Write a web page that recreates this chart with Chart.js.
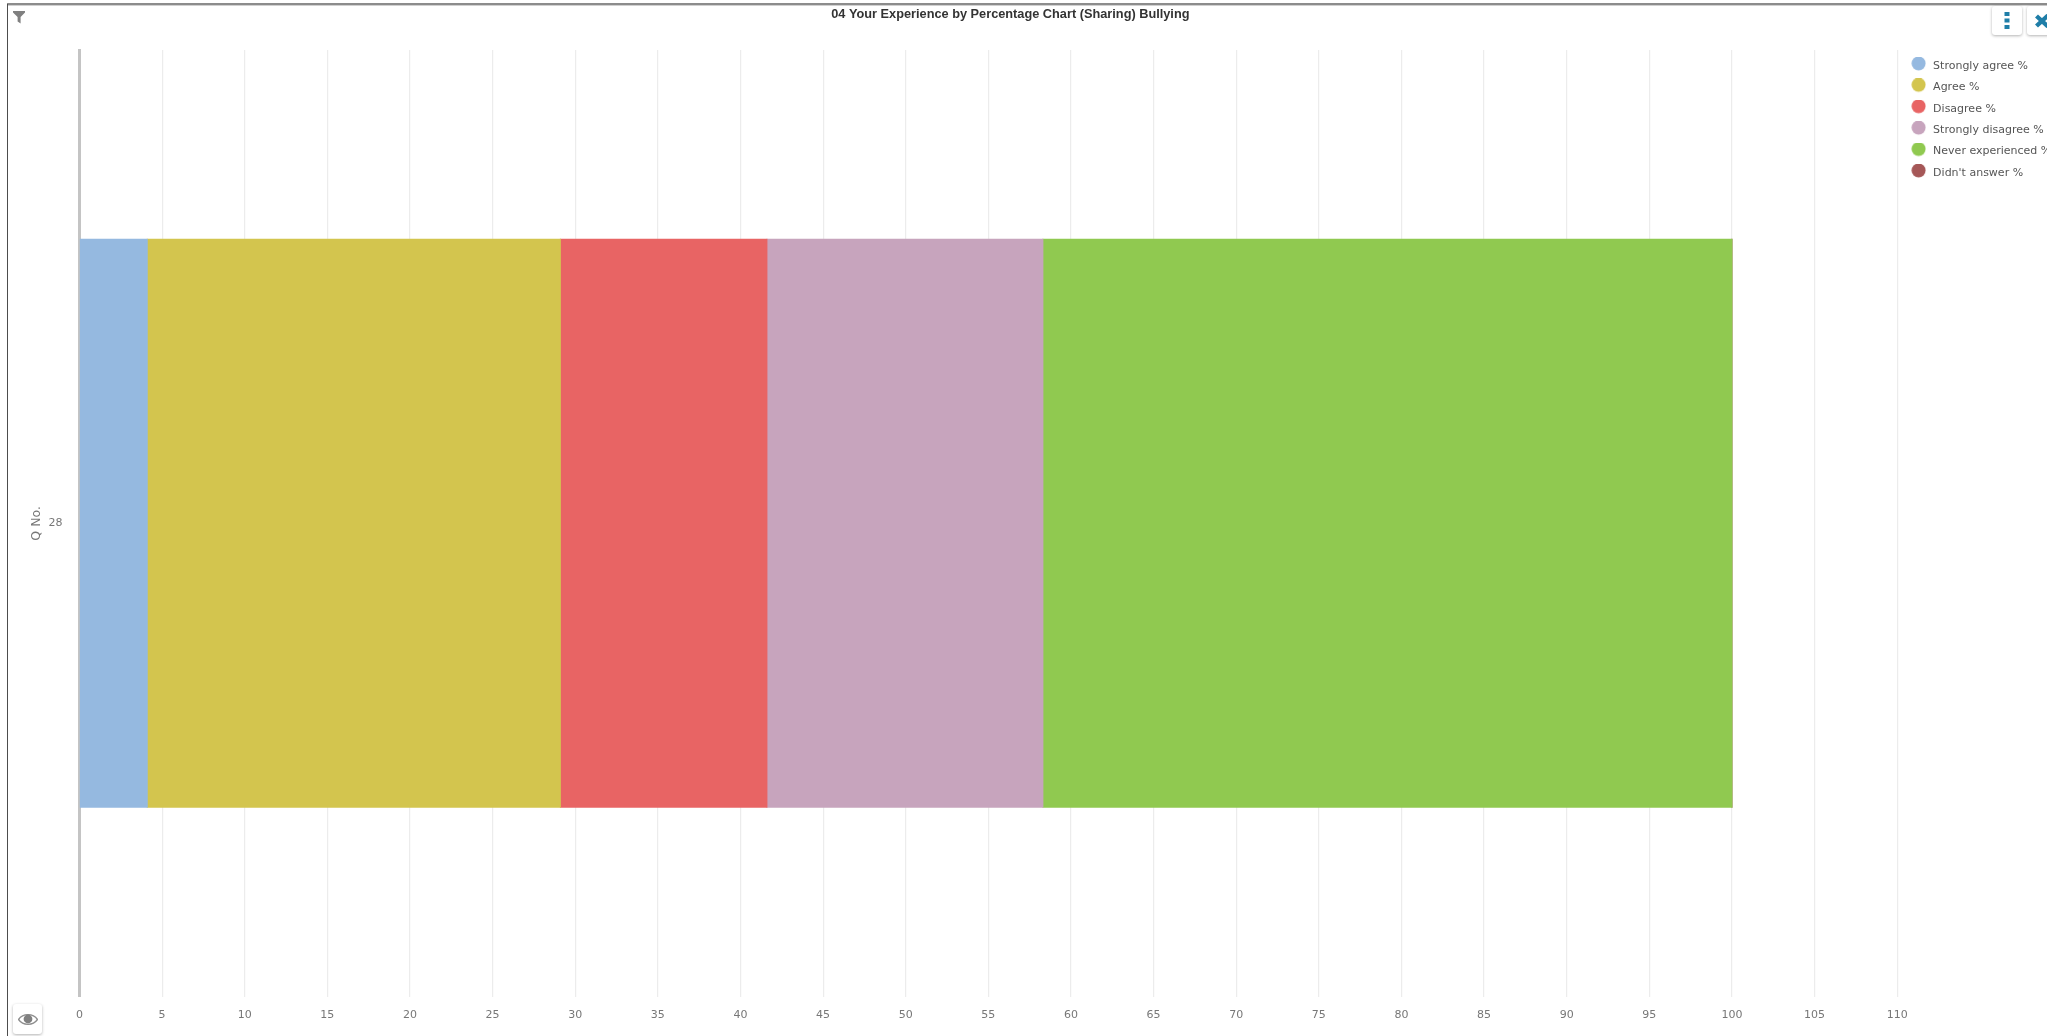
<!DOCTYPE html>
<html>
<head>
<meta charset="utf-8">
<title>04 Your Experience by Percentage Chart (Sharing) Bullying</title>
<script src="https://cdn.jsdelivr.net/npm/chart.js@4/dist/chart.umd.min.js"></script>
<style>
  html, body { margin: 0; padding: 0; background: #fff; }
  body { width: 2060px; height: 1036px; overflow: hidden; position: relative; }
  #frame { position: absolute; left: 0; top: 0; width: 2047px; height: 1036px; overflow: hidden; }
  #frame canvas { position: absolute; left: 0; top: 0; }
  .edge-top { position: absolute; left: 7px; top: 3px; width: 2040px; height: 2px; background: #8c8c8c; border-bottom: 1px solid #d0d0d0; }
  .edge-left { position: absolute; left: 7px; top: 4px; width: 1px; height: 1032px; background: #4d4d4d; }
  .btn { position: absolute; background: #fff; border-radius: 3px; box-shadow: 0 1px 3px rgba(0,0,0,.3); }
  .btn svg, .icon { position: absolute; display: block; }
</style>
</head>
<body>
<div id="frame">
  <canvas id="myChart" width="2060" height="1036" style="width:2060px;height:1036px"></canvas>
  <div class="edge-top"></div>
  <div class="edge-left"></div>
  <svg class="icon" style="left:13px;top:11px" width="12" height="13" viewBox="0 0 12 13">
    <path d="M0 0H12V1.5L7.6 6V12.5L4.6 10.5V6L0 1.5Z" fill="#808080"/>
  </svg>
  <div class="btn" style="left:1992px;top:6px;width:30px;height:29px">
    <svg style="left:12px;top:6px" width="6" height="17" viewBox="0 0 6 17">
      <rect x="0.5" y="0" width="5" height="4" fill="#1f7ea8"/>
      <rect x="0.5" y="6.5" width="5" height="4" fill="#1f7ea8"/>
      <rect x="0.5" y="13" width="5" height="4" fill="#1f7ea8"/>
    </svg>
  </div>
  <div class="btn" style="left:2027px;top:6px;width:30px;height:29px">
    <svg style="left:8px;top:8px" width="15" height="14" viewBox="0 0 15 14">
      <path d="M1.5 2L13 12.5M13 1.5L1.5 12" stroke="#1f7ea8" stroke-width="4.4" fill="none"/>
    </svg>
  </div>
  <div class="btn" style="left:13px;top:1004px;width:29px;height:30px">
    <svg style="left:5px;top:9px" width="20" height="13" viewBox="0 0 20 13">
      <path d="M0.5 6.5C5 0 15 0 19.5 6.5C15 13 5 13 0.5 6.5Z" fill="none" stroke="#8d8d8d" stroke-width="1.4"/>
      <circle cx="10" cy="6" r="4.4" fill="#808080"/>
    </svg>
  </div>
</div>
<script>
const chartTitle = '04 Your Experience by Percentage Chart (Sharing) Bullying'
const questions = ['28']
const seriesNames = [
  'Strongly agree %',
  'Agree %',
  'Disagree %',
  'Strongly disagree %',
  'Never experienced %',
  "Didn't answer %",
]
const stronglyAgree = [4.1]
const agree = [25]
const disagree = [12.5]
const stronglyDisagree = [16.7]
const neverExperienced = [41.7]
const didntAnswer = [0]
const seriesValues = [stronglyAgree, agree, disagree, stronglyDisagree, neverExperienced, didntAnswer]
const seriesColors = ['#95b9e0', '#d3c54e', '#e86464', '#c7a4bd', '#90c950', '#a55757']

const textFont = 'DejaVu Sans, sans-serif'

// legend dot sits a little above the text line, so use a small canvas as the point style
function legendDot(color) {
  const dot = document.createElement('canvas')
  dot.width = 15
  dot.height = 18
  const ctx = dot.getContext('2d')
  ctx.fillStyle = color
  ctx.beginPath()
  ctx.arc(7.5, 6.5, 7, 0, Math.PI * 2)
  ctx.fill()
  return dot
}

// the title and the legend are not where the layout puts them in the original
const nudgeBoxes = {
  id: 'nudgeBoxes',
  afterLayout(chart) {
    chart.titleBlock.left += 22
    chart.titleBlock.right += 22
    chart.legend.left += 2
    chart.legend.right += 2
  },
}

const datasets = seriesNames.map((name, i) => ({
  label: name,
  data: seriesValues[i],
  backgroundColor: seriesColors[i],
  pointStyle: legendDot(seriesColors[i]),
  barPercentage: 0.6,
  categoryPercentage: 1,
  inflateAmount: 0.5,
}))

const ctx = document.getElementById('myChart').getContext('2d')
const myChart = new Chart(ctx, {
  type: 'bar',
  data: { labels: questions, datasets },
  plugins: [nudgeBoxes],
  options: {
    indexAxis: 'y',
    responsive: false,
    animation: false,
    devicePixelRatio: 1,
    layout: { padding: { left: 25, right: 0.7, top: 0, bottom: 0 } },
    plugins: {
      title: {
        display: true,
        text: chartTitle,
        fullSize: false,
        color: '#333',
        font: { family: 'Liberation Sans, Arial, sans-serif', size: 12.75, weight: 'bold' },
        padding: { top: 6.5, bottom: 28.2 },
      },
      legend: {
        position: 'right',
        align: 'start',
        fullSize: false,
        labels: {
          usePointStyle: true,
          pointStyleWidth: 18,
          boxHeight: 11,
          padding: 10.4,
          color: '#555',
          font: { family: textFont, size: 11 },
        },
      },
      tooltip: { enabled: false },
    },
    scales: {
      x: {
        stacked: true,
        min: 0,
        max: 110,
        afterFit(scale) { scale.height = 39.3 },
        grid: { color: '#ececec', lineWidth: 1.2, drawTicks: false },
        border: { display: false },
        ticks: {
          stepSize: 5,
          padding: 12,
          maxRotation: 0,
          autoSkip: false,
          color: '#777',
          font: { family: textFont, size: 11 },
        },
      },
      y: {
        stacked: true,
        afterFit(scale) { scale.width = 54.5 },
        grid: { display: false, drawTicks: false },
        border: { display: true, color: '#c4c4c4', width: 3 },
        title: {
          display: true,
          text: 'Q No.',
          color: '#777',
          font: { family: textFont, size: 12.5 },
        },
        ticks: {
          padding: 17,
          color: '#777',
          font: { family: textFont, size: 11 },
        },
      },
    },
  },
})
</script>
</body>
</html>
